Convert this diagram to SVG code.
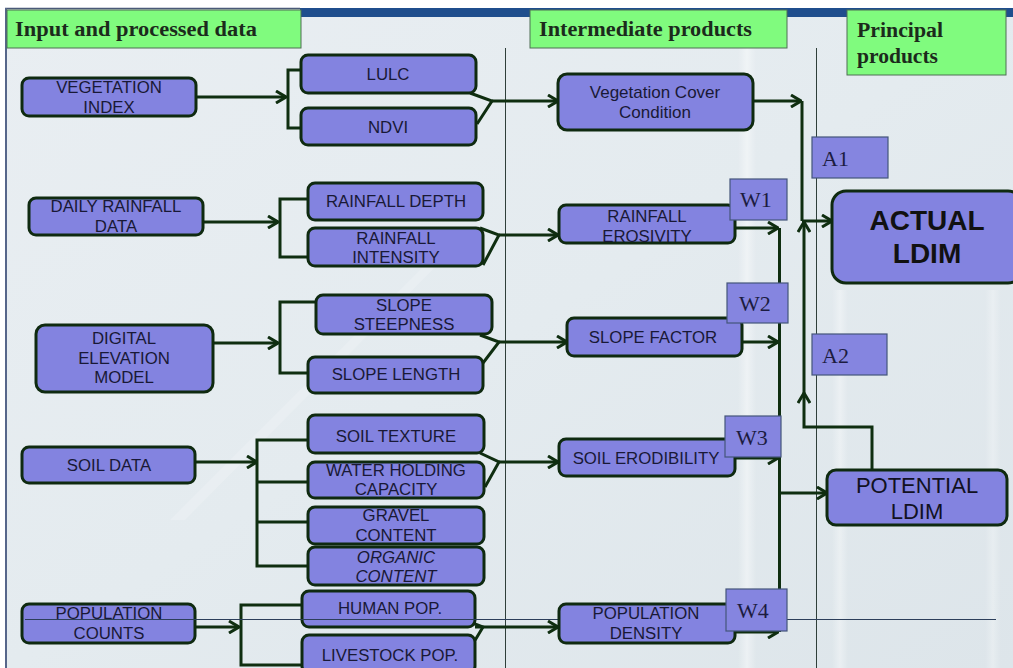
<svg xmlns="http://www.w3.org/2000/svg" width="1013" height="668" viewBox="0 0 1013 668">
  <defs>
    <linearGradient id="bg" x1="0" y1="0" x2="1" y2="1">
      <stop offset="0" stop-color="#e9eef2"/>
      <stop offset="0.5" stop-color="#e4ebef"/>
      <stop offset="1" stop-color="#dde5ea"/>
    </linearGradient>
    <linearGradient id="streak" x1="0" y1="0" x2="1" y2="0">
      <stop offset="0" stop-color="#ffffff" stop-opacity="0"/>
      <stop offset="0.5" stop-color="#ffffff" stop-opacity="0.7"/>
      <stop offset="1" stop-color="#ffffff" stop-opacity="0"/>
    </linearGradient>
    <marker id="arrow" viewBox="0 0 12 14" refX="11" refY="7" markerWidth="12" markerHeight="14" markerUnits="userSpaceOnUse" orient="auto">
      <path d="M1,1 L11,7 L1,13" fill="none" stroke="#0f2e10" stroke-width="3" stroke-linejoin="miter"/>
    </marker>
    <style>
      .node { fill: #8383e0; stroke: #0f2a10; stroke-width: 3; }
      .tag { fill: #8585e0; stroke: #44557a; stroke-width: 1.2; }
      .head { fill: #80fb7e; stroke: #4f6f55; stroke-width: 1; }
      .ht { font-family: "Liberation Serif", serif; font-weight: bold; font-size: 20px; fill: #1c2a1c; }
      .nt { font-family: "Liberation Sans", Arial, sans-serif; font-size: 16.8px; fill: #191936; text-anchor: middle; }
      .vc { font-size: 17px; }
      .big { font-size: 28px; font-weight: bold; fill: #111111; }
      .mid { font-size: 22px; fill: #111122; }
      .it { font-style: italic; }
      .tt { font-family: "Liberation Serif", serif; font-size: 22px; fill: #1c1c40; }
      .con { fill: none; stroke: #0f2e10; stroke-width: 3; stroke-linejoin: miter; }
      .arr { marker-end: url(#arrow); }
      .rule { stroke: #2f3f3a; stroke-width: 1; }
    </style>
  </defs>

  <!-- backdrop -->
  <rect x="0" y="0" width="1013" height="668" fill="#ffffff"/>
  <rect x="6" y="8" width="1007" height="660" fill="url(#bg)"/>
  <rect x="738" y="48" width="18" height="620" fill="url(#streak)" opacity="0.6"/>
  <rect x="832" y="290" width="16" height="378" fill="url(#streak)" opacity="0.5"/>
  <rect x="985" y="290" width="16" height="378" fill="url(#streak)" opacity="0.4"/>
  <polygon points="170,520 440,250 452,250 185,520" fill="#ffffff" opacity="0.18"/>

  <!-- frame and title band -->
  <rect x="300" y="8" width="713" height="9" fill="#1f4e8d"/>
  <line x1="5" y1="8.5" x2="300" y2="8.5" stroke="#4a5a78" stroke-width="1.5"/>
  <line x1="6" y1="8" x2="6" y2="668" stroke="#56668a" stroke-width="2"/>

  <!-- column headers -->
  <g id="header-input">
    <rect class="head" x="7" y="10" width="294" height="38"/>
    <text class="ht" x="15" y="36" textLength="242" lengthAdjust="spacingAndGlyphs">Input and processed data</text>
  </g>
  <g id="header-intermediate">
    <rect class="head" x="530" y="10" width="257" height="38"/>
    <text class="ht" x="539" y="36" textLength="213" lengthAdjust="spacingAndGlyphs">Intermediate products</text>
  </g>
  <g id="header-principal">
    <rect class="head" x="847" y="10" width="159" height="65"/>
    <text class="ht" x="857" y="37" textLength="86" lengthAdjust="spacingAndGlyphs">Principal</text>
    <text class="ht" x="857" y="63" textLength="81" lengthAdjust="spacingAndGlyphs">products</text>
  </g>

  <!-- column dividers -->
  <line class="rule" x1="505.5" y1="48" x2="505.5" y2="668"/>
  <line class="rule" x1="816.5" y1="48" x2="816.5" y2="668"/>

  <!-- connectors -->
  <g id="connectors">
    <path class="con arr" d="M196,97 H286"/>
    <path class="con" d="M301,70 H288 V128 H301"/>
    <path class="con" d="M470,93 L492,101 L477,124"/>
    <path class="con arr" d="M492,101 H558"/>
    <path class="con arr" d="M753,101 H801"/>
    <path class="con" d="M802,101 V221"/>
    <path class="con arr" d="M802,221 H832"/>
    <path class="con arr" d="M872,470 V427 H804 V393"/>
    <path class="con arr" d="M804,393 V222"/>

    <path class="con arr" d="M203,222 H278"/>
    <path class="con" d="M308,199 H280 V257 H308"/>
    <path class="con" d="M480,228 L499,235 L483,265"/>
    <path class="con arr" d="M499,235 H558"/>

    <path class="con arr" d="M213,343 H278"/>
    <path class="con" d="M316,302 H280 V373 H308"/>
    <path class="con" d="M480,335 L499,342 L483,363"/>
    <path class="con arr" d="M499,342 H567"/>

    <path class="con arr" d="M195,462 H257"/>
    <path class="con" d="M308,440 H257 V566 H308 M257,482 H308 M257,522 H308"/>
    <path class="con" d="M480,453 L499,462 L485,487"/>
    <path class="con arr" d="M499,462 H558"/>

    <path class="con arr" d="M195,627 H239"/>
    <path class="con" d="M302,605 H241 V665 H302"/>
    <path class="con" d="M462,619 L483,627 L468,652"/>
    <path class="con arr" d="M475,627 H558"/>

    <path class="con arr" d="M735,228 H778"/>
    <path class="con arr" d="M742,342 H778"/>
    <path class="con arr" d="M735,458 H778"/>
    <path class="con arr" d="M735,632 H778"/>
    <path class="con" d="M779.5,228 V632"/>
    <path class="con arr" d="M779,493 H827"/>
  </g>

  <!-- input data -->
  <g id="vegetation-index">
    <rect class="node" x="22" y="78" width="174" height="38" rx="7"/>
    <text class="nt" x="109" y="93">VEGETATION</text>
    <text class="nt" x="109" y="113">INDEX</text>
  </g>
  <g id="lulc">
    <rect class="node" x="301" y="55" width="175" height="38" rx="7"/>
    <text class="nt" x="388" y="80">LULC</text>
  </g>
  <g id="ndvi">
    <rect class="node" x="301" y="108" width="175" height="37" rx="7"/>
    <text class="nt" x="388" y="133">NDVI</text>
  </g>
  <g id="daily-rainfall">
    <rect class="node" x="29" y="198" width="174" height="37" rx="7"/>
    <text class="nt" x="116" y="212">DAILY RAINFALL</text>
    <text class="nt" x="116" y="232">DATA</text>
  </g>
  <g id="rainfall-depth">
    <rect class="node" x="308" y="183" width="175" height="37" rx="7"/>
    <text class="nt" x="396" y="207">RAINFALL DEPTH</text>
  </g>
  <g id="rainfall-intensity">
    <rect class="node" x="308" y="228" width="175" height="38" rx="7"/>
    <text class="nt" x="396" y="244">RAINFALL</text>
    <text class="nt" x="396" y="263">INTENSITY</text>
  </g>
  <g id="dem">
    <rect class="node" x="36" y="325" width="177" height="67" rx="9"/>
    <text class="nt" x="124" y="344">DIGITAL</text>
    <text class="nt" x="124" y="364">ELEVATION</text>
    <text class="nt" x="124" y="383">MODEL</text>
  </g>
  <g id="slope-steepness">
    <rect class="node" x="316" y="295" width="176" height="39" rx="7"/>
    <text class="nt" x="404" y="311">SLOPE</text>
    <text class="nt" x="404" y="330">STEEPNESS</text>
  </g>
  <g id="slope-length">
    <rect class="node" x="308" y="357" width="175" height="36" rx="7"/>
    <text class="nt" x="396" y="380">SLOPE LENGTH</text>
  </g>
  <g id="soil-data">
    <rect class="node" x="22" y="447" width="173" height="36" rx="7"/>
    <text class="nt" x="109" y="471">SOIL DATA</text>
  </g>
  <g id="soil-texture">
    <rect class="node" x="308" y="415" width="176" height="38" rx="7"/>
    <text class="nt" x="396" y="442">SOIL TEXTURE</text>
  </g>
  <g id="water-holding">
    <rect class="node" x="308" y="462" width="176" height="36" rx="7"/>
    <text class="nt" x="396" y="476">WATER HOLDING</text>
    <text class="nt" x="396" y="495">CAPACITY</text>
  </g>
  <g id="gravel-content">
    <rect class="node" x="308" y="507" width="176" height="37" rx="7"/>
    <text class="nt" x="396" y="521">GRAVEL</text>
    <text class="nt" x="396" y="541">CONTENT</text>
  </g>
  <g id="organic-content">
    <rect class="node" x="308" y="547" width="176" height="38" rx="7"/>
    <text class="nt it" x="396" y="563">ORGANIC</text>
    <text class="nt it" x="396" y="582">CONTENT</text>
  </g>
  <g id="population-counts">
    <rect class="node" x="22" y="604" width="173" height="39" rx="7"/>
    <text class="nt" x="109" y="619">POPULATION</text>
    <text class="nt" x="109" y="639">COUNTS</text>
  </g>
  <g id="human-pop">
    <rect class="node" x="302" y="591" width="173" height="36" rx="7"/>
    <text class="nt" x="390" y="614">HUMAN POP.</text>
  </g>
  <g id="livestock-pop">
    <rect class="node" x="302" y="635" width="173" height="38" rx="7"/>
    <text class="nt" x="390" y="661">LIVESTOCK POP.</text>
  </g>

  <!-- stray guide rule across the bottom row -->
  <line x1="25" y1="619.5" x2="996" y2="619.5" stroke="#2c3e5a" stroke-width="1"/>

  <!-- intermediate products -->
  <g id="vegetation-cover">
    <rect class="node" x="558" y="74" width="195" height="56" rx="9"/>
    <text class="nt vc" x="655" y="98">Vegetation Cover</text>
    <text class="nt vc" x="655" y="118">Condition</text>
  </g>
  <g id="rainfall-erosivity">
    <rect class="node" x="559" y="205" width="176" height="38" rx="7"/>
    <text class="nt" x="647" y="222">RAINFALL</text>
    <text class="nt" x="647" y="242">EROSIVITY</text>
  </g>
  <g id="slope-factor">
    <rect class="node" x="567" y="318" width="175" height="38" rx="7"/>
    <text class="nt" x="653" y="343">SLOPE FACTOR</text>
  </g>
  <g id="soil-erodibility">
    <rect class="node" x="559" y="439" width="176" height="37" rx="7"/>
    <text class="nt" x="646" y="464">SOIL ERODIBILITY</text>
  </g>
  <g id="population-density">
    <rect class="node" x="559" y="604" width="176" height="39" rx="7"/>
    <text class="nt" x="646" y="619">POPULATION</text>
    <text class="nt" x="646" y="639">DENSITY</text>
  </g>

  <!-- principal products -->
  <g id="actual-ldim">
    <rect class="node" x="832" y="191" width="190" height="92" rx="14"/>
    <text class="nt big" x="927" y="230">ACTUAL</text>
    <text class="nt big" x="927" y="263">LDIM</text>
  </g>
  <g id="potential-ldim">
    <rect class="node" x="827" y="470" width="180" height="55" rx="9"/>
    <text class="nt mid" x="917" y="493">POTENTIAL</text>
    <text class="nt mid" x="917" y="519">LDIM</text>
  </g>

  <!-- weight tags -->
  <g id="w1">
    <rect class="tag" x="730" y="179" width="57" height="41"/>
    <text class="tt" x="756" y="207" text-anchor="middle">W1</text>
  </g>
  <g id="w2">
    <rect class="tag" x="727" y="283" width="61" height="40"/>
    <text class="tt" x="755" y="311" text-anchor="middle">W2</text>
  </g>
  <g id="w3">
    <rect class="tag" x="725" y="416" width="56" height="41"/>
    <text class="tt" x="752" y="445" text-anchor="middle">W3</text>
  </g>
  <g id="w4">
    <rect class="tag" x="726" y="589" width="61" height="42"/>
    <text class="tt" x="753" y="618" text-anchor="middle">W4</text>
  </g>
  <g id="a1">
    <rect class="tag" x="812" y="137" width="76" height="41"/>
    <text class="tt" x="822" y="166">A1</text>
  </g>
  <g id="a2">
    <rect class="tag" x="812" y="334" width="75" height="41"/>
    <text class="tt" x="822" y="363">A2</text>
  </g>
</svg>
